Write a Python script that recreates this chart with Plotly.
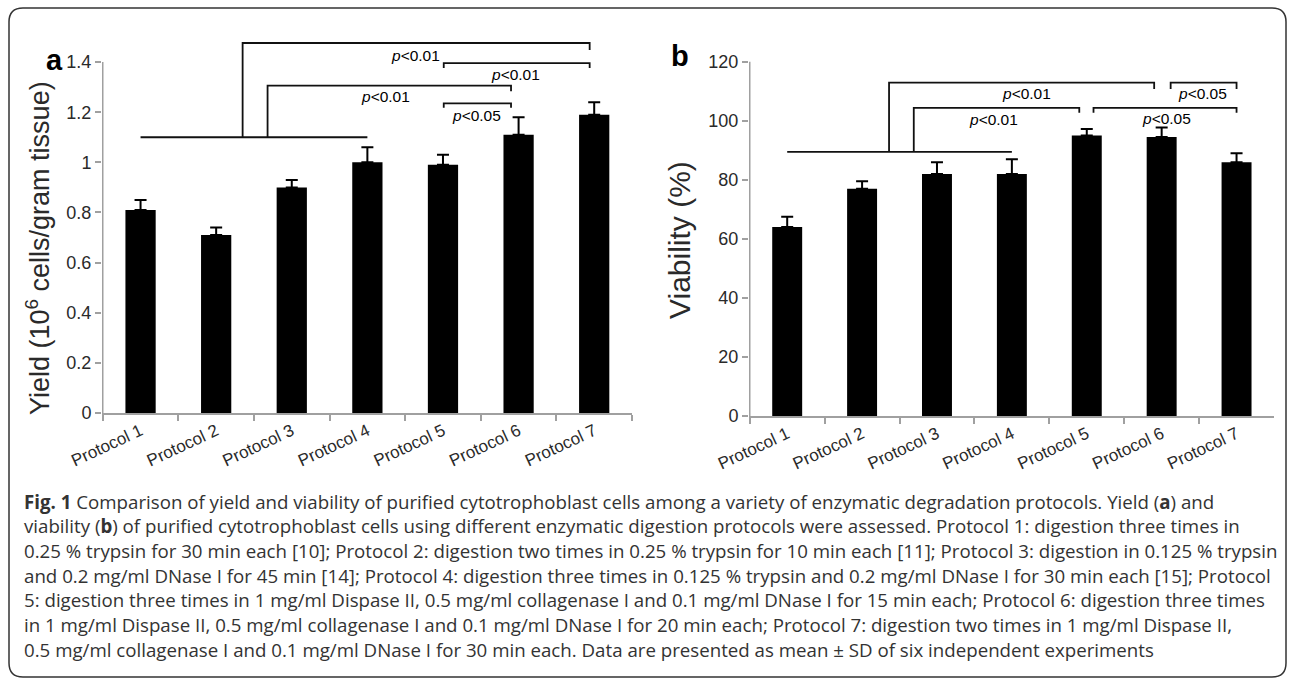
import plotly.graph_objects as go

# ---------------- data ----------------
categories = ["Protocol 1", "Protocol 2", "Protocol 3", "Protocol 4",
              "Protocol 5", "Protocol 6", "Protocol 7"]
yield_mean = [0.81, 0.71, 0.90, 1.00, 0.99, 1.11, 1.19]
yield_sd = [0.04, 0.03, 0.03, 0.06, 0.04, 0.07, 0.05]
viab_mean = [64, 77, 82, 82, 95, 94.5, 86]
viab_sd = [3.5, 2.5, 4, 5, 2.2, 3.2, 3]

yield_ticks = [0, 0.2, 0.4, 0.6, 0.8, 1, 1.2, 1.4]
yield_ticktext = ["0", "0.2", "0.4", "0.6", "0.8", "1", "1.2", "1.4"]
viab_ticks = [0, 20, 40, 60, 80, 100, 120]

caption_lines = [
    "<b>Fig. 1</b> Comparison of yield and viability of purified cytotrophoblast cells among a variety of enzymatic degradation protocols. Yield (<b>a</b>) and",
    "viability (<b>b</b>) of purified cytotrophoblast cells using different enzymatic digestion protocols were assessed. Protocol 1: digestion three times in",
    "0.25 % trypsin for 30 min each [10]; Protocol 2: digestion two times in 0.25 % trypsin for 10 min each [11]; Protocol 3: digestion in 0.125 % trypsin",
    "and 0.2 mg/ml DNase I for 45 min [14]; Protocol 4: digestion three times in 0.125 % trypsin and 0.2 mg/ml DNase I for 30 min each [15]; Protocol",
    "5: digestion three times in 1 mg/ml Dispase II, 0.5 mg/ml collagenase I and 0.1 mg/ml DNase I for 15 min each; Protocol 6: digestion three times",
    "in 1 mg/ml Dispase II, 0.5 mg/ml collagenase I and 0.1 mg/ml DNase I for 20 min each; Protocol 7: digestion two times in 1 mg/ml Dispase II,",
    "0.5 mg/ml collagenase I and 0.1 mg/ml DNase I for 30 min each. Data are presented as mean ± SD of six independent experiments",
]

# significance brackets: (left x, right x, left foot y, top y, right foot y, label x, label y, label)
brackets_a = [
    (1.35, 5.94, 1.10, 1.476, 1.448, 3.64, 1.428, "p<0.01"),
    (1.68, 4.90, 1.10, 1.306, 1.284, 3.24, 1.262, "p<0.01"),
    (4.01, 5.94, 1.376, 1.396, 1.376, 4.96, 1.350, "p<0.01"),
    (4.01, 4.90, 1.218, 1.235, 1.218, 4.44, 1.185, "p<0.05"),
]
base_a = (0.0, 3.0, 1.10)
brackets_b = [
    (1.36, 4.90, 89.5, 112.9, 110.8, 3.20, 109.3, "p<0.01"),
    (1.69, 3.90, 89.5, 104.4, 102.7, 2.75, 100.3, "p<0.01"),
    (4.09, 6.00, 102.7, 104.4, 102.7, 5.07, 100.8, "p<0.05"),
    (5.12, 6.00, 110.8, 112.9, 110.8, 5.55, 109.3, "p<0.05"),
]
base_b = (0.0, 3.0, 89.5)

W, H = 1290, 679


def px(x):
    return x / W


def py(y):
    return 1 - y / H


AX_GRAY = "#a0a0a0"
TXT = "#2a2a2a"
FONT = "Liberation Sans, Arial, sans-serif"

fig = go.Figure()
fig.add_trace(go.Bar(
    x=categories, y=yield_mean, xaxis="x", yaxis="y",
    marker=dict(color="black", line=dict(color="black", width=0)),
    error_y=dict(type="data", symmetric=False, array=yield_sd,
                 arrayminus=[0] * len(yield_sd), color="black",
                 thickness=2, width=6),
    showlegend=False,
))
fig.add_trace(go.Bar(
    x=categories, y=viab_mean, xaxis="x2", yaxis="y2",
    marker=dict(color="black", line=dict(color="black", width=0)),
    error_y=dict(type="data", symmetric=False, array=viab_sd,
                 arrayminus=[0] * len(viab_sd), color="black",
                 thickness=2, width=6),
    showlegend=False,
))

tickfont = dict(family=FONT, size=18, color=TXT)
xtickfont = dict(family=FONT, size=17, color=TXT)

xcommon = dict(type="category", showgrid=False, zeroline=False, showline=True,
               linecolor=AX_GRAY, linewidth=1.5, ticks="outside",
               tickson="boundaries", ticklen=6, tickcolor=AX_GRAY,
               tickwidth=1.5, tickangle=-25, tickfont=xtickfont,
               automargin=False, fixedrange=True)
ycommon = dict(showgrid=False, zeroline=False, showline=False, ticks="outside",
               ticklen=6, tickcolor=AX_GRAY, tickwidth=1.5, tickfont=tickfont,
               automargin=False, fixedrange=True)

fig.update_layout(
    width=W, height=H,
    margin=dict(l=0, r=0, t=0, b=0, autoexpand=False),
    paper_bgcolor="white", plot_bgcolor="rgba(0,0,0,0)",
    bargap=0.6,
    xaxis=dict(domain=[px(102), px(632)], anchor="y", **xcommon),
    yaxis=dict(domain=[py(413), py(37)], range=[0, 1.5], anchor="x",
               tickvals=yield_ticks, ticktext=yield_ticktext, **ycommon),
    xaxis2=dict(domain=[px(749), px(1274)], anchor="y2", **xcommon),
    yaxis2=dict(domain=[py(416), py(47)], range=[0, 125], anchor="x2",
                tickvals=viab_ticks, **ycommon),
)

shapes = []
line_style = dict(color="#111111", width=1.8)
# y axis lines (stop at top tick)
shapes.append(dict(type="line", xref="x", yref="y", x0=-0.5, x1=-0.5, y0=0, y1=1.4,
                   line=dict(color=AX_GRAY, width=1.5)))
shapes.append(dict(type="line", xref="x2", yref="y2", x0=-0.5, x1=-0.5, y0=0, y1=120,
                   line=dict(color=AX_GRAY, width=1.5)))

annotations = []


def add_brackets(xr, yr, base, brackets):
    shapes.append(dict(type="line", xref=xr, yref=yr, x0=base[0], x1=base[1],
                       y0=base[2], y1=base[2], line=line_style))
    for (xl, xrt, yl, yt, yrr, lx, ly, lab) in brackets:
        path = f"M {xl},{yl} L {xl},{yt} L {xrt},{yt} L {xrt},{yrr}"
        shapes.append(dict(type="path", xref=xr, yref=yr, path=path,
                           line=line_style))
        annotations.append(dict(
            xref=xr, yref=yr, x=lx, y=ly, showarrow=False,
            text="<i>p</i>&lt;" + lab.split("<")[1],
            font=dict(family=FONT, size=15.5, color="black"),
            xanchor="center", yanchor="middle"))


add_brackets("x", "y", base_a, brackets_a)
add_brackets("x2", "y2", base_b, brackets_b)

# outer rounded frame
x0, y0, x1, y1, r = 9, 8, 1286, 677, 14
fp = (f"M {px(x0)},{py(y0 + r)} Q {px(x0)},{py(y0)} {px(x0 + r)},{py(y0)} "
      f"L {px(x1 - r)},{py(y0)} Q {px(x1)},{py(y0)} {px(x1)},{py(y0 + r)} "
      f"L {px(x1)},{py(y1 - r)} Q {px(x1)},{py(y1)} {px(x1 - r)},{py(y1)} "
      f"L {px(x0 + r)},{py(y1)} Q {px(x0)},{py(y1)} {px(x0)},{py(y1 - r)} Z")
shapes.append(dict(type="path", xref="paper", yref="paper", path=fp,
                   line=dict(color="#333333", width=1.5)))

# panel labels
annotations.append(dict(xref="paper", yref="paper", x=px(44), y=py(42), text="<b>a</b>",
                        showarrow=False, font=dict(family=FONT, size=29, color="black")))
annotations.append(dict(xref="paper", yref="paper", x=px(680), y=py(38), text="<b>b</b>",
                        showarrow=False, font=dict(family=FONT, size=29, color="black")))

# axis titles
annotations.append(dict(xref="paper", yref="paper", x=px(38), y=py(248),
                        xanchor="center", yanchor="middle",
                        text="Yield (10<sup>6</sup> cells/gram tissue)", textangle=-90,
                        showarrow=False,
                        font=dict(family=FONT, size=27, color=TXT)))
annotations.append(dict(xref="paper", yref="paper", x=px(679), y=py(240),
                        xanchor="center", yanchor="middle",
                        text="Viability (%)", textangle=-90, showarrow=False,
                        font=dict(family=FONT, size=30, color=TXT)))

# caption
for i, line in enumerate(caption_lines):
    annotations.append(dict(xref="paper", yref="paper", x=px(22), y=py(501 + 24.7 * i),
                            text=line, showarrow=False, xanchor="left", yanchor="middle",
                            font=dict(family="Open Sans, sans-serif", size=18.7, color="#333333")))

fig.update_layout(shapes=shapes, annotations=annotations)
fig.write_html("out.html", config={"displayModeBar": False},
               post_script="document.body.style.margin='0';")
